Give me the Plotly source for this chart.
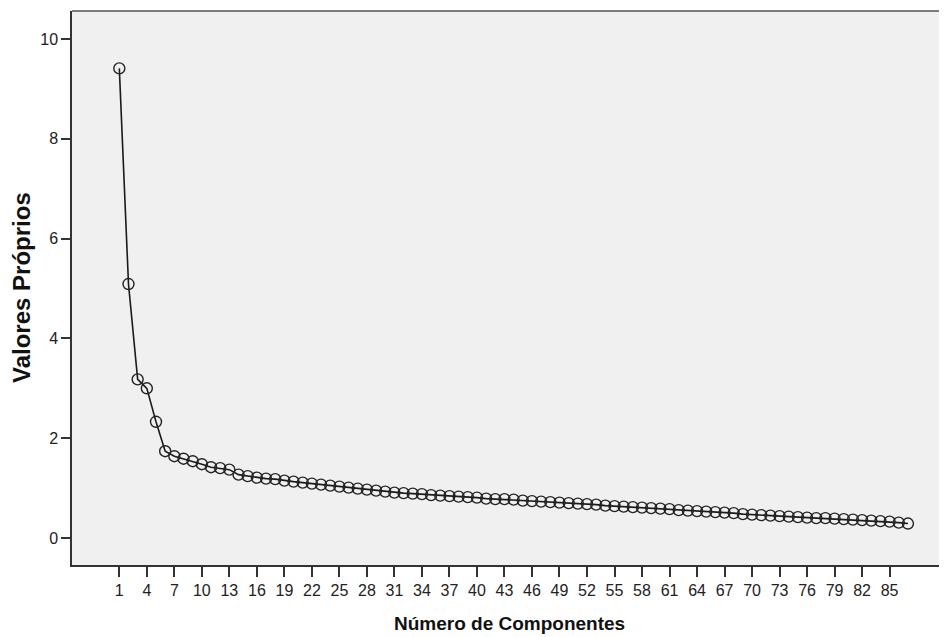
import plotly.graph_objects as go

components = list(range(1, 88))
eigenvalues = [
    9.41, 5.09, 3.18, 3.00, 2.33, 1.74, 1.64, 1.59, 1.54, 1.48,
    1.42, 1.40, 1.37, 1.27, 1.24, 1.21, 1.19, 1.18, 1.15, 1.13,
    1.11, 1.09, 1.07, 1.05, 1.03, 1.01, 0.99, 0.97, 0.95, 0.93,
    0.91, 0.90, 0.89, 0.88, 0.86, 0.85, 0.84, 0.83, 0.82, 0.81,
    0.79, 0.78, 0.78, 0.77, 0.75, 0.74, 0.73, 0.72, 0.71, 0.70,
    0.69, 0.68, 0.67, 0.65, 0.64, 0.63, 0.62, 0.61, 0.60, 0.59,
    0.58, 0.56, 0.55, 0.54, 0.53, 0.52, 0.51, 0.50, 0.48, 0.47,
    0.46, 0.45, 0.44, 0.43, 0.42, 0.41, 0.40, 0.40, 0.39, 0.38,
    0.37, 0.36, 0.35, 0.34, 0.33, 0.31, 0.29,
]
x_ticks = list(range(1, 86, 3))
y_ticks = [0, 2, 4, 6, 8, 10]

fig = go.Figure()
fig.add_trace(go.Scatter(
    x=components, y=eigenvalues, mode="lines+markers",
    line=dict(color="#1a1a1a", width=1.6),
    marker=dict(symbol="circle-open", size=11, color="#222222",
                line=dict(width=1.4, color="#222222")),
    hoverinfo="x+y", showlegend=False,
))

font_family = "Liberation Sans, Arial, sans-serif"
fig.update_layout(
    width=939, height=629,
    margin=dict(l=64, r=0, t=3, b=72),
    paper_bgcolor="white", plot_bgcolor="#f0f0f0",
    font=dict(family=font_family, size=16, color="#222222"),
    xaxis=dict(
        range=[-4.16, 91.26], tickmode="array", tickvals=x_ticks,
        ticktext=[str(v) for v in x_ticks],
        ticks="outside", ticklen=10, tickwidth=1.5, tickcolor="#333333",
        showgrid=False, zeroline=False, showline=True, linecolor="#333333",
        linewidth=1.5, tickfont=dict(size=16, color="#222222"),
    ),
    yaxis=dict(
        range=[-0.54, 10.56], tickmode="array", tickvals=y_ticks,
        ticks="outside", ticklen=9, tickwidth=1.5, tickcolor="#333333",
        showgrid=False, zeroline=False, showline=True, linecolor="#333333",
        linewidth=1.5, tickfont=dict(size=16, color="#222222"),
    ),
    shapes=[dict(type="line", xref="paper", yref="paper", x0=0, x1=1, y0=1, y1=1,
                 line=dict(color="#555555", width=1.5))],
    annotations=[
        dict(text="<b>Valores Próprios</b>", xref="paper", yref="paper",
             x=0, y=0.5, xanchor="center", yanchor="middle", xshift=-51,
             textangle=-90, showarrow=False,
             font=dict(size=24, color="#111111", family=font_family)),
        dict(text="<b>Número de Componentes</b>", xref="paper", yref="paper",
             x=0.5, y=0, xanchor="center", yanchor="middle", yshift=-58,
             showarrow=False,
             font=dict(size=19, color="#111111", family=font_family)),
    ],
)

fig.write_html("out.html")
